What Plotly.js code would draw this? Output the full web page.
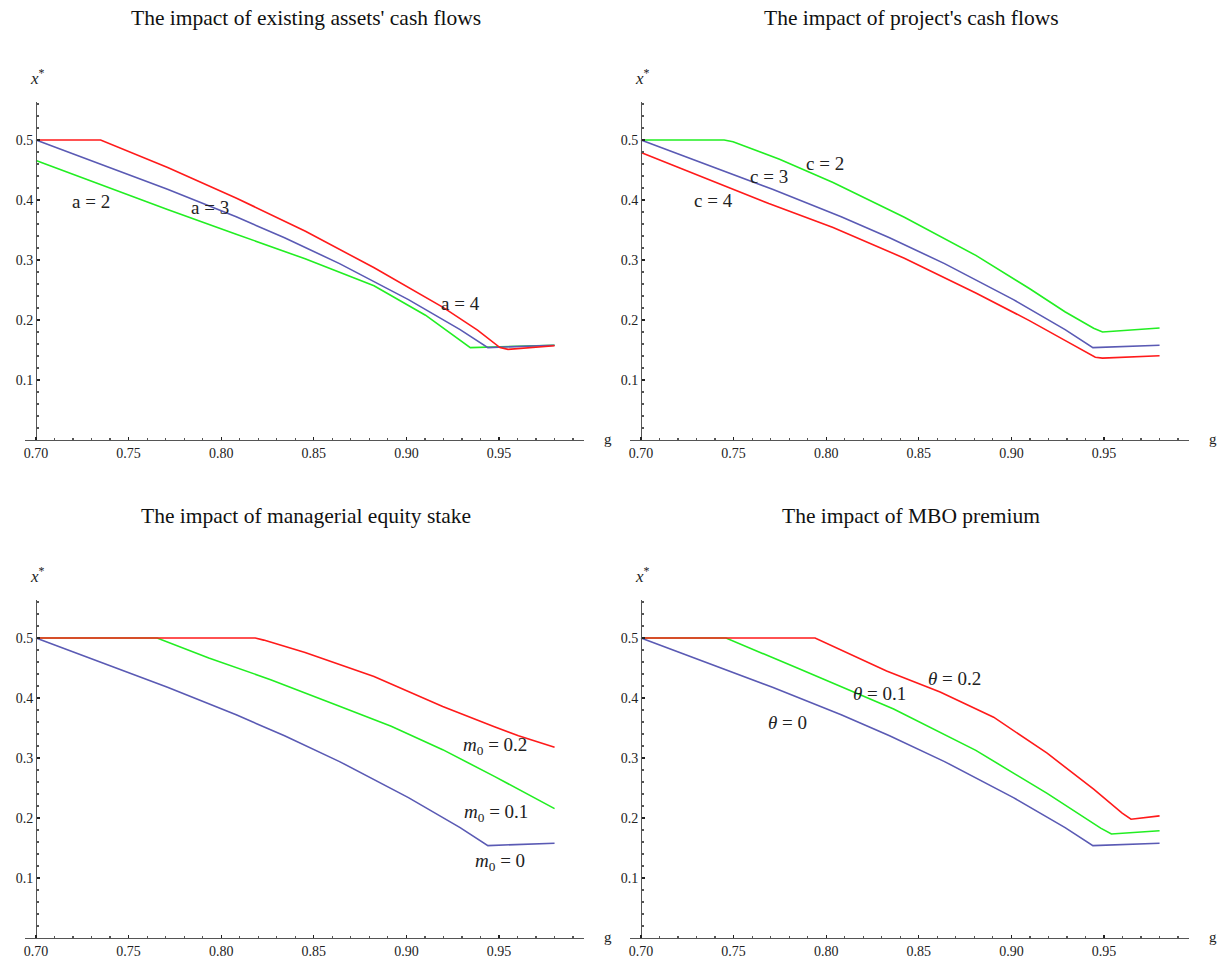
<!DOCTYPE html>
<html>
<head>
<meta charset="utf-8">
<script src="https://cdn.plot.ly/plotly-3.0.1.min.js"></script>
<style>html,body{margin:0;padding:0;background:#fff;}#chart{width:1227px;height:966px;}</style>
</head>
<body>
<div id="chart"></div>
<script>
// ---- Baseline curve (a = 3, c = 3, m0 = 0, theta = 0), blue in every panel ----
const gBase = [0.70, 0.7347, 0.7710, 0.8081, 0.8342, 0.8639, 0.9011, 0.9290, 0.9440, 0.98];
const xBase = [0.5, 0.460, 0.418, 0.372, 0.337, 0.294, 0.234, 0.184, 0.154, 0.158];

// ---- Panel 1: existing assets' cash flows (a) ----
const gA4 = [0.70, 0.7349, 0.7711, 0.8083, 0.8455, 0.8826, 0.9198, 0.9384, 0.9505, 0.9549, 0.98];
const xA4 = [0.5, 0.5, 0.454, 0.403, 0.348, 0.287, 0.221, 0.183, 0.154, 0.151, 0.157];
const gA2 = [0.70, 0.7347, 0.7710, 0.8081, 0.8453, 0.8825, 0.9103, 0.9345, 0.98];
const xA2 = [0.466, 0.426, 0.384, 0.343, 0.302, 0.257, 0.208, 0.154, 0.158];

// ---- Panel 2: project's cash flows (c) ----
const gC2 = [0.70, 0.7449, 0.7497, 0.7748, 0.8037, 0.8422, 0.8808, 0.9097, 0.9289, 0.9444, 0.9492, 0.98];
const xC2 = [0.5, 0.5, 0.4972, 0.468, 0.4293, 0.3713, 0.3077, 0.2525, 0.2138, 0.1862, 0.1801, 0.1867];
const gC4 = [0.70, 0.7362, 0.7690, 0.8037, 0.8422, 0.8808, 0.9097, 0.9289, 0.9453, 0.9492, 0.98];
const xC4 = [0.479, 0.434, 0.394, 0.354, 0.303, 0.245, 0.199, 0.166, 0.138, 0.1365, 0.1403];

// ---- Panel 3: managerial equity stake (m0) ----
const gM1 = [0.70, 0.7654, 0.7933, 0.8267, 0.8639, 0.8918, 0.9196, 0.9475, 0.98];
const xM1 = [0.5, 0.5, 0.4667, 0.4306, 0.3861, 0.3528, 0.3139, 0.2694, 0.2156];
const gM2 = [0.70, 0.8184, 0.8230, 0.8453, 0.8825, 0.9196, 0.9475, 0.9605, 0.98];
const xM2 = [0.5, 0.5, 0.4965, 0.476, 0.436, 0.386, 0.352, 0.337, 0.318];

// ---- Panel 4: MBO premium (theta) ----
const gT1 = [0.70, 0.7459, 0.7844, 0.8364, 0.8808, 0.9193, 0.9482, 0.9540, 0.98];
const xT1 = [0.5, 0.5, 0.4499, 0.3815, 0.3127, 0.241, 0.1832, 0.1733, 0.1788];
const gT2 = [0.70, 0.7940, 0.8326, 0.8615, 0.8904, 0.9193, 0.9444, 0.9598, 0.9646, 0.98];
const xT2 = [0.5, 0.5, 0.4449, 0.410, 0.368, 0.308, 0.248, 0.208, 0.198, 0.2036];

// ---- Text ----
const panelTitles = [
  "The impact of existing assets' cash flows",
  "The impact of project's cash flows",
  "The impact of managerial equity stake",
  "The impact of MBO premium"
];
const xTickVals = [0.70, 0.75, 0.80, 0.85, 0.90, 0.95];
const yTickVals = [0.1, 0.2, 0.3, 0.4, 0.5];
const curveLabels = [
  {p: 1, g: 0.7297, v: 0.398, t: "a = 2"},
  {p: 1, g: 0.7942, v: 0.388, t: "a = 3"},
  {p: 1, g: 0.9293, v: 0.227, t: "a = 4"},
  {p: 2, g: 0.7992, v: 0.460, t: "c = 2"},
  {p: 2, g: 0.7690, v: 0.439, t: "c = 3"},
  {p: 2, g: 0.7391, v: 0.399, t: "c = 4"},
  {p: 3, g: 0.9480, v: 0.320, t: "<i>m</i><sub>0</sub> = 0.2"},
  {p: 3, g: 0.9484, v: 0.209, t: "<i>m</i><sub>0</sub> = 0.1"},
  {p: 3, g: 0.9505, v: 0.127, t: "<i>m</i><sub>0</sub> = 0"},
  {p: 4, g: 0.8692, v: 0.432, t: "<i>θ</i> = 0.2"},
  {p: 4, g: 0.8287, v: 0.408, t: "<i>θ</i> = 0.1"},
  {p: 4, g: 0.7792, v: 0.3595, t: "<i>θ</i> = 0"}
];

const RED = '#ff1a1a', GREEN = '#22ee22', BLUE = '#5a5ab4';
const W = 1227, H = 966;
const PXU = 1852;       // pixels per unit of g
const PYU = 600;        // pixels per unit of x*
const serif = 'Liberation Serif, Times New Roman, serif';
const axisColor = '#555';

// panel geometry in pixels: y axis at g = 0.70, baseline at x* = 0
const panels = [
  {ox: 36,  oy: 440},
  {ox: 641, oy: 440},
  {ox: 36,  oy: 938},
  {ox: 641, oy: 938}
];
const gMin = 0.70, gMaxPx = 548, gExt = 11, yTopPx = 338;

const series = [
  [[gA2, xA2, GREEN], [gBase, xBase, BLUE], [gA4, xA4, RED]],
  [[gC4, xC4, RED], [gBase, xBase, BLUE], [gC2, xC2, GREEN]],
  [[gBase, xBase, BLUE], [gM1, xM1, GREEN], [gM2, xM2, RED]],
  [[gBase, xBase, BLUE], [gT1, xT1, GREEN], [gT2, xT2, RED]]
];

const data = [];
const layout = {
  width: W, height: H,
  margin: {l: 0, r: 0, t: 0, b: 0},
  paper_bgcolor: '#fff', plot_bgcolor: 'rgba(0,0,0,0)',
  showlegend: false,
  annotations: []
};

panels.forEach((P, i) => {
  const n = i + 1;
  const xa = 'xaxis' + (n === 1 ? '' : n), ya = 'yaxis' + (n === 1 ? '' : n);
  const xr = 'x' + (n === 1 ? '' : n), yr = 'y' + (n === 1 ? '' : n);
  const x0px = P.ox - gExt, x1px = P.ox + gMaxPx;
  const yTop = P.oy - yTopPx;
  layout[xa] = {
    domain: [x0px / W, x1px / W],
    range: [gMin - gExt / PXU, gMin + gMaxPx / PXU],
    anchor: yr,
    showline: true, linecolor: axisColor, linewidth: 1,
    showgrid: false, zeroline: false,
    ticks: 'inside', ticklen: 3, tickwidth: 1.2, tickcolor: '#222',
    tickvals: xTickVals, tickformat: '.2f',
    tickfont: {family: serif, size: 14, color: '#222'},
    minor: {dtick: 0.01, tick0: 0.70, ticks: 'inside', ticklen: 2, tickcolor: '#555', showgrid: false},
    fixedrange: true
  };
  layout[ya] = {
    domain: [1 - P.oy / H, 1 - yTop / H],
    range: [0, yTopPx / PYU],
    anchor: 'free', position: P.ox / W,
    showline: true, linecolor: axisColor, linewidth: 1,
    showgrid: false, zeroline: false,
    ticks: 'inside', ticklen: 3, tickwidth: 1.2, tickcolor: '#222',
    tickvals: yTickVals, tickformat: '.1f',
    tickfont: {family: serif, size: 14, color: '#222'},
    minor: {dtick: 0.02, tick0: 0, ticks: 'inside', ticklen: 2, tickcolor: '#555', showgrid: false},
    fixedrange: true
  };
  series[i].forEach(s => {
    data.push({x: s[0], y: s[1], xaxis: xr, yaxis: yr, type: 'scatter', mode: 'lines',
      line: {color: s[2], width: 1.6}, hoverinfo: 'skip'});
  });
  // panel title
  layout.annotations.push({
    xref: 'paper', yref: 'paper', x: (P.ox + 270) / W, y: 1 - (P.oy - 422) / H,
    xanchor: 'center', yanchor: 'middle', showarrow: false,
    text: panelTitles[i], font: {family: serif, size: 21.5, color: '#111'}
  });
  // axis labels
  layout.annotations.push({
    xref: 'paper', yref: 'paper', x: (P.ox + 1) / W, y: 1 - (P.oy - 363) / H,
    xanchor: 'center', yanchor: 'middle', showarrow: false,
    text: '<i>x</i><sup>*</sup>', font: {family: serif, size: 17, color: '#222'}
  });
  layout.annotations.push({
    xref: 'paper', yref: 'paper', x: (P.ox + 566) / W, y: 1 - (P.oy - 1) / H,
    xanchor: 'left', yanchor: 'middle', showarrow: false,
    text: 'g', font: {family: serif, size: 15, color: '#222'}
  });
});

curveLabels.forEach(L => {
  const s = L.p === 1 ? '' : L.p;
  layout.annotations.push({
    xref: 'x' + s, yref: 'y' + s, x: L.g, y: L.v,
    xanchor: 'center', yanchor: 'middle', showarrow: false,
    text: L.t, font: {family: serif, size: 19, color: '#222'}
  });
});

Plotly.newPlot('chart', data, layout, {staticPlot: true, displayModeBar: false});
</script>
</body>
</html>
